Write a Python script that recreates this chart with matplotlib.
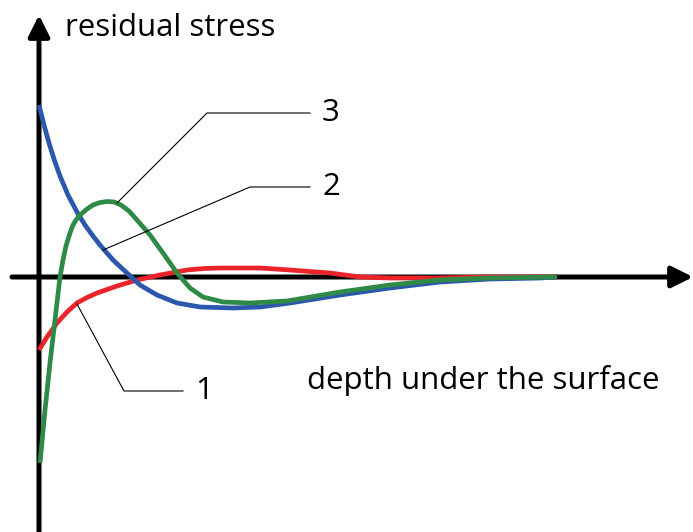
import matplotlib
matplotlib.use("Agg")
import matplotlib.pyplot as plt

# courbes (profondeur, contrainte) - unites arbitraires
blue_x = [0, 5, 10, 15, 21, 29, 38, 46, 54, 61, 74, 88, 101, 118, 138, 161, 194, 221,
          251, 301, 351, 401, 451, 501, 518]
blue_y = [172, 152, 134, 118, 101, 82, 65, 52, 41, 32, 17, 4, -8, -18, -26, -30, -31, -30,
          -26, -18, -11, -5, -2, -1, 0]

green_x = [1, 6, 11, 16, 21, 24, 27, 31, 34, 37, 41, 48, 54, 61, 68, 75, 82, 90, 98, 111,
           124, 138, 151, 164, 184, 211, 248, 301, 351, 401, 451, 518]
green_y = [-186, -133, -86, -43, 0, 17, 31, 44, 52, 57, 62, 68, 72, 74.5, 75.5, 75, 72, 66,
           57, 42, 24, 4, -11, -20, -25, -26, -24, -15, -8, -3, -1, 0]

red_x = [0, 8, 18, 28, 38, 48, 58, 78, 98, 121, 148, 165, 181, 221, 251, 291, 321, 351,
         401, 451, 518]
red_y = [-73, -60, -46, -35, -26, -20.5, -16, -9, -3, 2, 7, 8.5, 9, 9, 7, 4, 0, -1,
         -1, 0, 0]

# etiquettes des courbes : point sur la courbe, coude, fin du trait
labels = ["1", "2", "3"]
lead_pts = [(38, -27), (64, 27), (78, 74)]
lead_knee = [(85, -114), (211, 90), (168, 164)]
lead_end = [(144, -114), (271, 90), (271, 164)]

BLUE = "#2b57ad"
GREEN = "#2f8a47"
RED = "#ec2329"

plt.rcParams["font.family"] = ["Open Sans", "DejaVu Sans"]

fig = plt.figure(figsize=(6.93, 5.32), dpi=100)
ax = fig.add_axes([0, 0, 1, 1])
ax.set_xlim(-39, 654)
ax.set_ylim(-255, 277)
ax.axis("off")

# axes avec fleches
ax.annotate("", xy=(654, 0), xytext=(-27, 0),
            arrowprops=dict(arrowstyle="-|>", lw=3.6, color="black",
                            mutation_scale=32, shrinkA=0, shrinkB=0))
ax.annotate("", xy=(0, 262), xytext=(0, -258),
            arrowprops=dict(arrowstyle="-|>", lw=3.6, color="black",
                            mutation_scale=32, shrinkA=0, shrinkB=0))

ax.plot(red_x, red_y, color=RED, lw=3.4, solid_capstyle="butt",
        solid_joinstyle="round", zorder=3)
ax.plot(blue_x, blue_y, color=BLUE, lw=3.4, solid_capstyle="butt",
        solid_joinstyle="round", zorder=3)
ax.plot(green_x, green_y, color=GREEN, lw=3.4, solid_capstyle="butt",
        solid_joinstyle="round", zorder=4)

for lab, p, k, e in zip(labels, lead_pts, lead_knee, lead_end):
    ax.plot([p[0], k[0], e[0]], [p[1], k[1], e[1]], color="black", lw=0.8, zorder=5)
    ax.text(e[0] + 12, e[1], lab, fontsize=22.5, ha="left", va="center")

ax.text(26, 249, "residual stress", fontsize=22.5, ha="left", va="center")
ax.text(268, -104, "depth under the surface", fontsize=22.5, ha="left", va="center")

fig.savefig("out.png", dpi=100)
